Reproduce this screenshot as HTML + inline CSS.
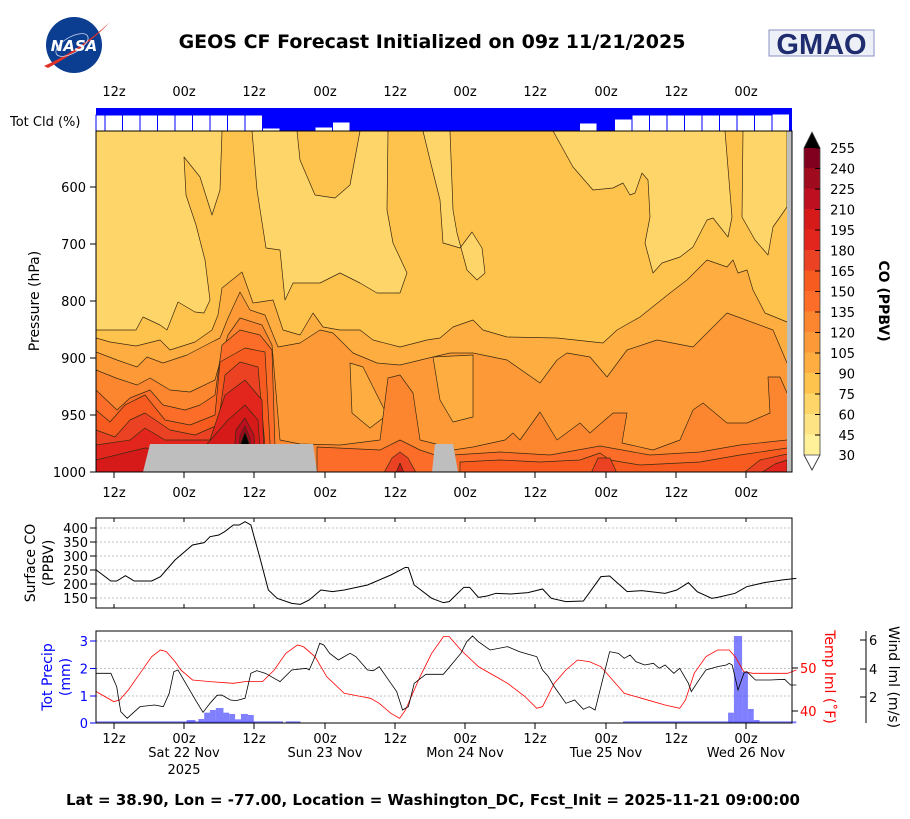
<!DOCTYPE html>
<html><head><meta charset="utf-8"><style>
html,body{margin:0;padding:0;background:#fff;}
svg{display:block;font-family:"DejaVu Sans","Liberation Sans",sans-serif;}
</style></head><body>
<svg width="910" height="819" viewBox="0 0 910 819" xmlns="http://www.w3.org/2000/svg">
<rect width="910" height="819" fill="#fff"/>
<circle cx="74" cy="45" r="28" fill="#0b3d91"/>
<path d="M44,66 Q80,50 110,22 Q86,48 48,68Z" fill="#e03127"/>
<ellipse cx="72" cy="45" rx="18" ry="8" fill="none" stroke="#cfd8ee" stroke-width="0.8" transform="rotate(-30 72 45)"/>
<text x="74" y="51" font-size="15" font-weight="bold" font-style="italic" fill="#fff" text-anchor="middle">NASA</text>
<rect x="769" y="30" width="105" height="26" fill="#eef0f8" stroke="#8890c0" stroke-width="1"/>
<text x="821.5" y="54" font-size="29" font-weight="bold" fill="#1f2d6e" text-anchor="middle" font-family="Liberation Sans,sans-serif">GMAO</text>
<text x="432" y="48" font-size="19" font-weight="bold" text-anchor="middle">GEOS CF Forecast Initialized on 09z 11/21/2025</text>

<g font-size="13" text-anchor="middle">
<text x="114" y="96">12z</text><text x="184" y="96">00z</text><text x="254" y="96">12z</text><text x="325" y="96">00z</text><text x="395" y="96">12z</text><text x="465" y="96">00z</text><text x="535" y="96">12z</text><text x="606" y="96">00z</text><text x="676" y="96">12z</text><text x="746" y="96">00z</text>
</g>
<text x="10" y="126" font-size="13">Tot Cld (%)</text>

<rect x="96" y="108" width="696" height="23" fill="#0000ff"/>
<g fill="#fff" stroke="#0000ff" stroke-width="1">
<rect x="96" y="115" width="9" height="16"/>
<rect x="105" y="115" width="17.5" height="16"/><rect x="122.5" y="115" width="17.5" height="16"/><rect x="140" y="115" width="17.5" height="16"/><rect x="157.5" y="115" width="17.5" height="16"/><rect x="175" y="115" width="17.5" height="16"/><rect x="192.5" y="115" width="17.5" height="16"/><rect x="210" y="115" width="17.5" height="16"/><rect x="227.5" y="115" width="17.5" height="16"/><rect x="245" y="115" width="17.5" height="16"/>
<rect x="262.5" y="128" width="17.5" height="3"/><rect x="280" y="130" width="17.5" height="1"/>
<rect x="315" y="127" width="17.5" height="4"/><rect x="332.5" y="122" width="17.5" height="9"/>
<rect x="562" y="130" width="17.5" height="1"/><rect x="579.5" y="123" width="17.5" height="8"/><rect x="597" y="130" width="17.5" height="1"/><rect x="614.5" y="119" width="17.5" height="12"/>
<rect x="632" y="115" width="17.5" height="16"/><rect x="649.5" y="115" width="17.5" height="16"/><rect x="667" y="115" width="17.5" height="16"/><rect x="684.5" y="115" width="17.5" height="16"/><rect x="702" y="115" width="17.5" height="16"/><rect x="719.5" y="115" width="17.5" height="16"/><rect x="737" y="115" width="17.5" height="16"/><rect x="754.5" y="115" width="17.5" height="16"/><rect x="772" y="114" width="17.5" height="17"/>
</g>

<clipPath id="cp"><rect x="96" y="131" width="696" height="341"/></clipPath>
<g clip-path="url(#cp)" stroke="#3a2a10" stroke-width="0.7" stroke-linejoin="round">
<rect x="96" y="131" width="696" height="341" fill="#fed568" stroke="none"/>
<path fill="#fec34d" d="M96,330 L136,330 L143,317 L160,325 L167,330 L178,302 L195,312 L204,313 L210,300 L205,260 L196,225 L186,195 L184,157 L200,177 L212,215 L220,190 L222,131 L800,131 L800,480 L96,480Z"/>
<path fill="#fed568" d="M252,131 L297,131 L300,160 L315,195 L335,198 L350,185 L360,131 L388,131 L387,210 L393,243 L407,273 L400,293 L377,293 L360,283 L340,273 L320,283 L293,283 L285,300 L280,250 L266,248 L257,190Z"/>
<path fill="#fed568" d="M423,131 L450,131 L453,210 L457,233 L467,270 L477,280 L485,273 L482,248 L472,232 L460,248 L450,245 L443,243 L440,200 L430,160Z"/>
<path fill="#fed568" d="M553,131 L573,167 L593,190 L613,188 L623,183 L630,195 L635,193 L642,173 L648,180 L650,217 L645,243 L653,273 L662,263 L680,257 L693,247 L707,220 L713,218 L728,237 L732,217 L725,131Z"/>
<path fill="#fed568" d="M743,131 L742,217 L755,240 L768,255 L773,227 L787,207 L787,131Z"/>
<path fill="#feae40" d="M96,338 L110,342 L136,346 L160,340 L170,350 L195,342 L212,330 L218,315 L222,288 L232,280 L242,272 L253,303 L273,300 L283,330 L300,335 L313,313 L323,327 L340,330 L360,330 L373,340 L400,347 L427,340 L440,338 L453,327 L473,320 L483,330 L507,337 L557,338 L603,343 L617,330 L640,317 L670,293 L687,280 L707,260 L727,267 L733,260 L738,273 L747,270 L753,290 L765,313 L787,322 L800,322 L800,480 L96,480Z"/>
<path fill="#fd9a37" d="M96,352 L117,360 L137,367 L147,357 L163,363 L187,355 L210,343 L220,338 L228,318 L240,292 L250,310 L265,315 L278,347 L300,343 L320,330 L333,333 L353,353 L377,363 L400,365 L433,357 L450,353 L473,353 L507,360 L540,383 L557,360 L567,353 L590,357 L607,377 L627,350 L657,340 L693,347 L727,313 L773,330 L787,363 L800,363 L800,480 L96,480Z"/>
<path fill="#feae40" d="M350,363 L352,413 L370,428 L387,415 L363,367Z"/>
<path fill="#feae40" d="M433,357 L473,355 L473,417 L453,422 L440,400Z"/>
<path fill="#fc8630" d="M96,370 L116,378 L137,385 L150,378 L170,390 L190,392 L215,380 L222,355 L228,335 L240,318 L262,325 L272,345 L280,440 L300,444 L340,445 L380,440 L388,378 L400,375 L413,393 L420,440 L440,445 L453,450 L473,447 L505,440 L513,433 L520,440 L540,412 L557,440 L580,423 L590,433 L613,413 L627,413 L622,443 L653,450 L680,440 L693,410 L703,403 L727,423 L747,423 L770,413 L768,377 L780,377 L787,393 L800,393 L800,480 L96,480Z"/>
<path fill="#fb6d28" d="M96,390 L117,410 L130,398 L150,390 L163,405 L185,410 L200,405 L215,395 L222,345 L240,330 L260,335 L272,350 L276,480 L96,480Z"/>
<path fill="#fb6d28" d="M317,447 L380,450 L400,440 L420,450 L435,455 L435,480 L317,480Z"/>
<path fill="#fb6d28" d="M453,455 L500,452 L550,455 L600,446 L650,455 L700,452 L740,445 L787,440 L800,440 L800,480 L453,480Z"/>
<path fill="#f75b20" d="M96,410 L110,422 L125,405 L145,395 L165,420 L190,425 L215,415 L220,362 L245,348 L265,352 L272,480 L96,480Z"/>
<path fill="#f75b20" d="M460,462 L500,460 L540,462 L580,460 L600,453 L610,460 L640,465 L700,462 L740,455 L787,448 L800,448 L800,480 L460,480Z"/>
<path fill="#ec4224" d="M96,430 L115,437 L130,420 L145,413 L170,430 L195,435 L218,425 L225,375 L240,362 L258,367 L268,480 L96,480Z"/>
<path fill="#ec4224" d="M380,480 L392,458 L400,452 L408,458 L420,480Z"/>
<path fill="#ec4224" d="M588,480 L598,458 L610,458 L620,480Z"/>
<path fill="#ec4224" d="M735,480 L760,460 L787,454 L800,454 L800,480Z"/>
<path fill="#e2261d" d="M96,445 L130,440 L145,428 L165,440 L210,440 L225,395 L245,380 L262,400 L265,480 L96,480Z"/>
<path fill="#d61a1a" d="M96,460 L145,448 L200,452 L228,420 L245,405 L258,420 L262,480 L96,480Z"/>
<path fill="#c01a1a" d="M393,480 L400,463 L407,480Z"/>
<path fill="#e2261d" d="M750,480 L775,464 L787,460 L787,480Z"/>
<path fill="#bd0f1f" d="M232,480 L236,430 L245,418 L254,435 L256,480Z"/>
<path fill="#a00a1e" d="M238,480 L240,436 L245,426 L250,438 L252,480Z"/>
<path fill="#000" d="M240,480 L241,443 L245,432 L249,443 L250,480Z"/>
<g fill="#bebebe" stroke="none">
<path d="M150,444 L313,444 L317,472 L143,472Z"/>
<path d="M435,444 L453,444 L458,472 L432,472Z"/>
<rect x="787" y="131" width="5" height="341"/>
</g>
</g>
<rect x="96" y="131" width="696" height="341" fill="none" stroke="#000" stroke-width="1"/>
<g stroke="#000" stroke-width="1">
<line x1="90" y1="187" x2="96" y2="187"/><line x1="90" y1="244" x2="96" y2="244"/><line x1="90" y1="301" x2="96" y2="301"/><line x1="90" y1="358" x2="96" y2="358"/><line x1="90" y1="415" x2="96" y2="415"/><line x1="90" y1="472" x2="96" y2="472"/>
<line x1="114" y1="472" x2="114" y2="478"/><line x1="184" y1="472" x2="184" y2="478"/><line x1="254" y1="472" x2="254" y2="478"/><line x1="325" y1="472" x2="325" y2="478"/><line x1="395" y1="472" x2="395" y2="478"/><line x1="465" y1="472" x2="465" y2="478"/><line x1="535" y1="472" x2="535" y2="478"/><line x1="606" y1="472" x2="606" y2="478"/><line x1="676" y1="472" x2="676" y2="478"/><line x1="746" y1="472" x2="746" y2="478"/>
</g>
<g font-size="13" text-anchor="end">
<text x="86" y="192">600</text><text x="86" y="249">700</text><text x="86" y="306">800</text><text x="86" y="363">900</text><text x="86" y="420">950</text><text x="86" y="477">1000</text>
</g>
<text transform="translate(39,301) rotate(-90)" font-size="14" text-anchor="middle">Pressure (hPa)</text>
<g font-size="13" text-anchor="middle">
<text x="114" y="497">12z</text><text x="184" y="497">00z</text><text x="254" y="497">12z</text><text x="325" y="497">00z</text><text x="395" y="497">12z</text><text x="465" y="497">00z</text><text x="535" y="497">12z</text><text x="606" y="497">00z</text><text x="676" y="497">12z</text><text x="746" y="497">00z</text>
</g>

<g stroke="none">
<rect x="804" y="434.5" width="16" height="20.5" fill="#fff09a"/>
<rect x="804" y="414" width="16" height="20.5" fill="#fee384"/>
<rect x="804" y="393.5" width="16" height="20.5" fill="#fed568"/>
<rect x="804" y="373" width="16" height="20.5" fill="#fec34d"/>
<rect x="804" y="352.5" width="16" height="20.5" fill="#feae40"/>
<rect x="804" y="332" width="16" height="20.5" fill="#fd9a37"/>
<rect x="804" y="311.5" width="16" height="20.5" fill="#fc8630"/>
<rect x="804" y="291" width="16" height="20.5" fill="#fb6d28"/>
<rect x="804" y="270.5" width="16" height="20.5" fill="#f75b20"/>
<rect x="804" y="250" width="16" height="20.5" fill="#ec4224"/>
<rect x="804" y="229.5" width="16" height="20.5" fill="#e2261d"/>
<rect x="804" y="209" width="16" height="20.5" fill="#d61a1a"/>
<rect x="804" y="188.5" width="16" height="20.5" fill="#bd0f1f"/>
<rect x="804" y="168" width="16" height="20.5" fill="#a00a1e"/>
<rect x="804" y="148" width="16" height="20" fill="#82001f"/>
</g>
<path d="M804,148 L812,132 L820,148Z" fill="#000"/>
<path d="M804,455 L812,470 L820,455Z" fill="#fff" stroke="#444" stroke-width="0.8"/>
<path d="M804,455 L804,148 L812,132 L820,148 L820,455 L812,470Z" fill="none" stroke="#444" stroke-width="0.8"/>
<g stroke="#000" stroke-width="1">
<line x1="815" y1="148" x2="820" y2="148"/><line x1="815" y1="168.5" x2="820" y2="168.5"/><line x1="815" y1="189" x2="820" y2="189"/><line x1="815" y1="209.5" x2="820" y2="209.5"/><line x1="815" y1="230" x2="820" y2="230"/><line x1="815" y1="250.5" x2="820" y2="250.5"/><line x1="815" y1="271" x2="820" y2="271"/><line x1="815" y1="291.5" x2="820" y2="291.5"/><line x1="815" y1="312" x2="820" y2="312"/><line x1="815" y1="332.5" x2="820" y2="332.5"/><line x1="815" y1="353" x2="820" y2="353"/><line x1="815" y1="373.5" x2="820" y2="373.5"/><line x1="815" y1="394" x2="820" y2="394"/><line x1="815" y1="414.5" x2="820" y2="414.5"/><line x1="815" y1="435" x2="820" y2="435"/>
</g>
<g font-size="13" text-anchor="end">
<text x="855" y="153">255</text><text x="855" y="173.5">240</text><text x="855" y="194">225</text><text x="855" y="214.5">210</text><text x="855" y="235">195</text><text x="855" y="255.5">180</text><text x="855" y="276">165</text><text x="855" y="296.5">150</text><text x="855" y="317">135</text><text x="855" y="337.5">120</text><text x="855" y="358">105</text><text x="855" y="378.5">90</text><text x="855" y="399">75</text><text x="855" y="419.5">60</text><text x="855" y="440">45</text><text x="855" y="460">30</text>
</g>
<text transform="translate(879,301) rotate(90)" font-size="14" font-weight="bold" text-anchor="middle">CO (PPBV)</text>

<g stroke="#aaa" stroke-width="0.8" stroke-dasharray="2,2">
<line x1="96" y1="528" x2="792" y2="528"/><line x1="96" y1="542" x2="792" y2="542"/><line x1="96" y1="556" x2="792" y2="556"/><line x1="96" y1="570" x2="792" y2="570"/><line x1="96" y1="584" x2="792" y2="584"/><line x1="96" y1="598" x2="792" y2="598"/>
</g>
<g transform="translate(0,510) scale(0.5834,0.3333)">
<polyline fill="none" stroke="#000" stroke-width="1" vector-effect="non-scaling-stroke" points="165,180 190,213 200,213 215,197 230,213 260,213 275,200 300,150 330,105 350,98 360,80 375,75 385,65 400,45 410,45 420,35 430,45 445,140 460,240 475,265 500,280 515,283 530,270 550,240 570,245 590,240 630,225 670,195 695,172 700,173 710,225 740,265 760,278 770,275 795,232 805,232 820,262 835,258 850,250 875,252 905,248 930,237 945,265 970,275 1000,273 1030,200 1045,198 1075,245 1100,242 1140,250 1160,240 1180,218 1195,245 1220,265 1230,262 1260,250 1280,230 1310,218 1340,210 1365,205"/>
</g>
<rect x="96" y="518" width="696" height="90" fill="none" stroke="#000" stroke-width="1"/>
<g stroke="#000" stroke-width="1">
<line x1="90" y1="528" x2="96" y2="528"/><line x1="90" y1="542" x2="96" y2="542"/><line x1="90" y1="556" x2="96" y2="556"/><line x1="90" y1="570" x2="96" y2="570"/><line x1="90" y1="584" x2="96" y2="584"/><line x1="90" y1="598" x2="96" y2="598"/>
<path d="M114,518v4M184,518v4M254,518v4M325,518v4M395,518v4M465,518v4M535,518v4M606,518v4M676,518v4M746,518v4M114,608v-4M184,608v-4M254,608v-4M325,608v-4M395,608v-4M465,608v-4M535,608v-4M606,608v-4M676,608v-4M746,608v-4"/>
</g>
<g font-size="13" text-anchor="end">
<text x="88" y="533">400</text><text x="88" y="547">350</text><text x="88" y="561">300</text><text x="88" y="575">250</text><text x="88" y="589">200</text><text x="88" y="603">150</text>
</g>
<text transform="translate(35,563) rotate(-90)" font-size="14" text-anchor="middle">Surface CO</text>
<text transform="translate(53,563) rotate(-90)" font-size="14" text-anchor="middle">(PPBV)</text>

<g stroke="#aaa" stroke-width="0.8" stroke-dasharray="2,2">
<line x1="96" y1="641" x2="792" y2="641"/><line x1="96" y1="668.5" x2="792" y2="668.5"/><line x1="96" y1="696" x2="792" y2="696"/>
</g>
<g transform="translate(0,510) scale(0.5834,0.3333)">
<g fill="#5555ff" fill-opacity="0.75" stroke="none">
<rect x="165" y="634" width="320" height="6"/><rect x="490" y="634" width="25" height="6"/><rect x="1068" y="634" width="297" height="6"/>
<rect x="320" y="630" width="15" height="10"/><rect x="340" y="627" width="10" height="13"/><rect x="350" y="608" width="10" height="32"/><rect x="360" y="600" width="10" height="40"/><rect x="370" y="594" width="13" height="46"/><rect x="383" y="608" width="10" height="32"/><rect x="393" y="612" width="10" height="28"/><rect x="403" y="628" width="10" height="12"/><rect x="413" y="612" width="12" height="28"/><rect x="425" y="615" width="10" height="25"/>
<rect x="1248" y="608" width="10" height="32"/><rect x="1258" y="378" width="14" height="262"/><rect x="1272" y="485" width="10" height="155"/><rect x="1282" y="597" width="10" height="43"/><rect x="1292" y="630" width="10" height="10"/>
</g>
<polyline fill="none" stroke="#ff0000" stroke-width="0.8" vector-effect="non-scaling-stroke" points="165,545 195,575 205,570 220,540 240,490 260,440 275,420 285,425 300,455 310,480 330,510 360,515 400,520 420,515 450,515 470,480 490,430 510,405 520,410 540,440 560,500 590,550 620,560 635,565 650,580 670,610 685,625 695,600 720,500 740,430 760,380 770,380 790,420 820,470 850,500 870,520 900,560 920,595 930,590 950,520 970,480 990,450 1010,455 1030,470 1050,510 1070,550 1100,565 1140,585 1165,595 1175,570 1190,490 1210,440 1230,420 1250,420 1260,440 1275,485 1290,490 1350,490 1365,480"/>
<polyline fill="none" stroke="#000" stroke-width="0.8" vector-effect="non-scaling-stroke" points="165,490 190,490 200,530 207,605 218,625 240,590 265,585 280,590 290,550 298,485 305,480 315,510 335,570 348,607 360,580 372,556 380,555 395,570 405,572 420,565 430,490 440,482 455,490 470,505 480,515 500,480 525,475 530,480 540,440 548,400 555,405 565,430 580,450 600,430 610,440 630,480 640,482 650,470 670,520 680,545 690,600 700,590 710,520 730,493 760,493 790,430 800,395 810,378 820,395 840,420 870,410 890,425 910,435 920,440 930,480 940,500 950,530 970,580 985,570 1000,598 1010,590 1020,600 1040,460 1045,425 1060,430 1070,445 1080,435 1090,455 1105,465 1120,460 1130,475 1140,465 1155,490 1165,475 1180,520 1185,545 1200,505 1210,480 1230,470 1245,465 1250,460 1255,465 1265,540 1275,490 1280,485 1295,510 1320,510 1345,508 1355,525 1365,525"/>
</g>
<rect x="96" y="631" width="696" height="92" fill="none" stroke="#000" stroke-width="1"/>
<g stroke="#000" stroke-width="1">
<path d="M114,723v6M184,723v6M254,723v6M325,723v6M395,723v6M465,723v6M535,723v6M606,723v6M676,723v6M746,723v6"/>
<path d="M792,668h6M792,711h6"/>
<path d="M866,631V723M860,640h6M860,669h6M860,697h6"/>
</g>
<g stroke="#0000ff" stroke-width="1"><path d="M90,641h6M90,668.5h6M90,696h6M90,723h6"/></g>
<g font-size="13" text-anchor="end" fill="#0000ff">
<text x="88" y="646">3</text><text x="88" y="673.5">2</text><text x="88" y="701">1</text><text x="88" y="728">0</text>
</g>
<g font-size="13" fill="#ff0000"><text x="800" y="673">50</text><text x="800" y="716">40</text></g>
<g font-size="13"><text x="869" y="645">6</text><text x="869" y="674">4</text><text x="869" y="702">2</text></g>
<text transform="translate(52,677) rotate(-90)" font-size="14" text-anchor="middle" fill="#0000ff">Tot Precip</text>
<text transform="translate(70,677) rotate(-90)" font-size="14" text-anchor="middle" fill="#0000ff">(mm)</text>
<text transform="translate(825,677) rotate(90)" font-size="14" text-anchor="middle" fill="#ff0000">Temp lml (˚F)</text>
<text transform="translate(889,677) rotate(90)" font-size="14" text-anchor="middle">Wind lml (m/s)</text>
<g font-size="13" text-anchor="middle">
<text x="114" y="743">12z</text><text x="184" y="743">00z</text><text x="254" y="743">12z</text><text x="325" y="743">00z</text><text x="395" y="743">12z</text><text x="465" y="743">00z</text><text x="535" y="743">12z</text><text x="606" y="743">00z</text><text x="676" y="743">12z</text><text x="746" y="743">00z</text>
<text x="184" y="757">Sat 22 Nov</text><text x="184" y="774">2025</text><text x="325" y="757">Sun 23 Nov</text><text x="465" y="757">Mon 24 Nov</text><text x="606" y="757">Tue 25 Nov</text><text x="746" y="757">Wed 26 Nov</text>
</g>
<text x="433" y="805" font-size="15" font-weight="bold" text-anchor="middle">Lat = 38.90, Lon = -77.00, Location = Washington_DC, Fcst_Init = 2025-11-21 09:00:00</text>
</svg>
</body></html>
